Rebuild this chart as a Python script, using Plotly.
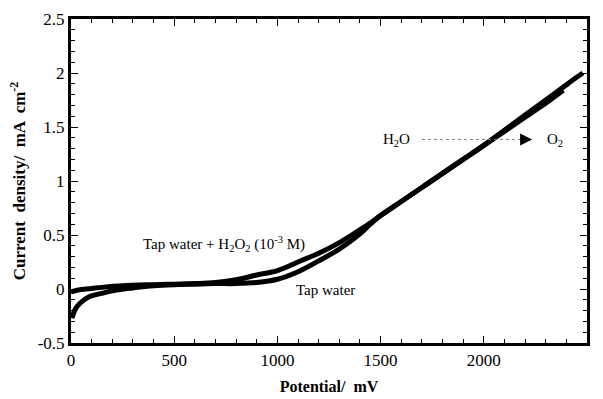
import plotly.graph_objects as go

# Tap water + H2O2 (10^-3 M)
h2o2_x = [0, 50, 100, 150, 250, 400, 500, 600, 700, 800, 900, 1000, 1100, 1200, 1300, 1385,
          1450, 1500, 1600, 1700, 1800, 1900, 2000, 2100, 2200, 2300, 2400, 2450, 2480]
h2o2_y = [-0.025, -0.005, 0.005, 0.015, 0.03, 0.04, 0.045, 0.05, 0.06, 0.085, 0.13, 0.17, 0.25, 0.33, 0.43, 0.53,
          0.61, 0.68, 0.81, 0.94, 1.07, 1.20, 1.33, 1.47, 1.61, 1.75, 1.89, 1.96, 2.0]

# Tap water
tap_x = [5, 20, 45, 90, 150, 220, 300, 400, 500, 600, 700, 800, 900, 1000, 1100, 1200, 1300, 1400,
         1450, 1500, 1600, 1700, 1800, 1900, 2000, 2100, 2200, 2300, 2385]
tap_y = [-0.27, -0.19, -0.13, -0.07, -0.04, -0.01, 0.01, 0.03, 0.04, 0.045, 0.05, 0.05, 0.06, 0.09, 0.16, 0.26, 0.37, 0.51,
         0.60, 0.68, 0.81, 0.94, 1.07, 1.20, 1.33, 1.46, 1.59, 1.72, 1.84]

x_ticks = [0, 500, 1000, 1500, 2000, 2500]
y_ticks = [-0.5, 0, 0.5, 1, 1.5, 2, 2.5]
y_tick_text = ["-0.5", "0", "0.5", "1", "1.5", "2", "2.5"]

FONT = "Liberation Serif"

fig = go.Figure()
fig.add_trace(go.Scatter(x=tap_x, y=tap_y, mode="lines", line=dict(color="black", width=5, shape="spline"),
                         showlegend=False))
fig.add_trace(go.Scatter(x=h2o2_x, y=h2o2_y, mode="lines", line=dict(color="black", width=5, shape="spline"),
                         showlegend=False))

axis_common = dict(
    showline=True, linecolor="black", linewidth=3, mirror="allticks",
    ticks="inside", ticklen=7, tickwidth=1, tickcolor="black",
    showgrid=False, zeroline=False, automargin=False,
    tickfont=dict(family=FONT, size=17, color="black"),
)

fig.update_xaxes(range=[0, 2500], tickvals=x_ticks, ticktext=[str(v) for v in x_ticks],
                 minor=dict(dtick=100, ticks="inside", ticklen=4, tickcolor="black", showgrid=False),
                 title=dict(text="<b>Potential/  mV</b>", font=dict(family=FONT, size=16, color="black"), standoff=12),
                 **axis_common)
fig.update_yaxes(range=[-0.5, 2.5], tickvals=y_ticks, ticktext=y_tick_text,
                 minor=dict(dtick=0.1, ticks="inside", ticklen=4, tickcolor="black", showgrid=False),
                 title=dict(text="<b>Current  density/  mA  cm<sup>-2</sup></b>", font=dict(family=FONT, size=17, color="black"), standoff=8),
                 **axis_common)

tf = dict(family=FONT, size=15, color="black")
fig.add_annotation(x=741, y=0.42, text="Tap water + H<sub>2</sub>O<sub>2</sub> (10<sup>-3</sup> M)",
                   showarrow=False, font=tf)
fig.add_annotation(x=1235, y=-0.01, text="Tap water", showarrow=False, font=tf)
fig.add_annotation(x=1575, y=1.38, text="H<sub>2</sub>O", showarrow=False, font=tf)
fig.add_annotation(x=2345, y=1.38, text="O<sub>2</sub>", showarrow=False, font=tf)

fig.add_shape(type="line", x0=1700, x1=2200, y0=1.385, y1=1.385, xref="x", yref="y",
              line=dict(color="gray", width=1, dash="dot"))
fig.add_annotation(x=2234, y=1.385, ax=2170, ay=1.385, axref="x", ayref="y", xref="x", yref="y",
                   showarrow=True, arrowhead=2, arrowsize=1.6, arrowwidth=1.5, arrowcolor="black", text="")

fig.update_layout(
    width=603, height=399,
    margin=dict(l=71, r=16, t=19, b=56),
    paper_bgcolor="white", plot_bgcolor="white",
    font=dict(family=FONT, color="black"),
)

fig.write_html("out.html")
